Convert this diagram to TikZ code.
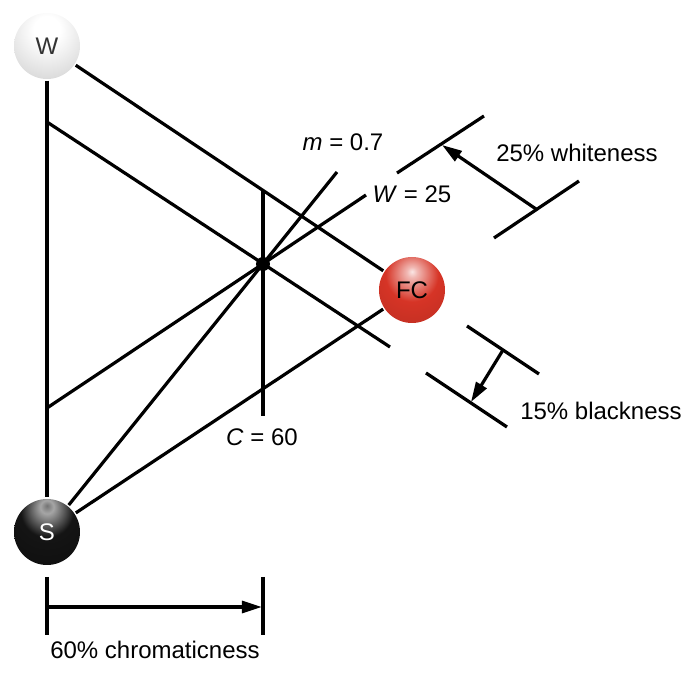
\documentclass[tikz,border=0pt]{standalone}
\usepackage{fontspec}
\setmainfont{Liberation Sans}
\usetikzlibrary{arrows.meta}
\definecolor{fcred}{RGB}{214,52,38}
\pgfdeclareradialshading{whiteball}{\pgfpoint{0bp}{14bp}}{color(0bp)=(white); color(10bp)=(white); color(34bp)=(black!14); color(54bp)=(black!34); color(100bp)=(black!45)}
\pgfdeclareradialshading{redball}{\pgfpoint{0bp}{14bp}}{color(0bp)=(fcred!12!white); color(4bp)=(fcred!35!white); color(20bp)=(fcred); color(50bp)=(fcred!85!black); color(100bp)=(fcred!70!black)}
\pgfdeclareradialshading{blackball}{\pgfpoint{0bp}{20bp}}{color(0bp)=(black!55); color(5bp)=(black!35); color(20bp)=(black!92); color(100bp)=(black)}

\begin{document}
\begin{tikzpicture}[x=0.5pt, y=-0.5pt, line width=1.6pt,
  ball/.style={circle, minimum size=33pt, inner sep=0pt, font=\fontsize{12}{14}\selectfont},
  lbl/.style={font=\fontsize{12}{14}\selectfont, inner sep=1pt},
  tip/.style={-{Triangle[length=10pt,width=6pt]}}]
  \useasboundingbox (0,0) rectangle (693,680);

  % spheres and the colour point
  \node[ball, shading=whiteball, text=black!80] (W) at (47,46) {W};
  \node[ball, shading=redball] (FC) at (412,290) {FC};
  \node[ball, shading=blackball, text=white] (S) at (47,532) {S};

  % free ends
  \coordinate (b1) at (47,122);  \coordinate (b2) at (390,347);
  \coordinate (w1) at (47,408);  \coordinate (w2) at (366,195);
  \coordinate (m1) at (337,172);
  \coordinate (c1) at (263,191); \coordinate (c2) at (263,416);

  % triangle
  \draw (W) -- (S);
  \draw (W) -- (FC);
  \draw (S) -- (FC);

  % lines through the colour point
  \draw (b1) -- (b2);
  \draw (w1) -- (w2);
  \draw (S) -- (m1);
  \draw (c1) -- (c2);
  \node[circle, fill, inner sep=0pt, minimum size=7pt] (P) at (263,264) {};

  \node[lbl] (mlbl) at (343,142) {\textit{m} = 0.7};
  \node[lbl] (wlbl) at (412,194) {\textit{W} = 25};
  \node[lbl] (clbl) at (262,437) {\textit{C} = 60};

  % whiteness
  \coordinate (wa) at (397,173); \coordinate (wb) at (484,116);
  \coordinate (wc) at (494,238); \coordinate (wd) at (579,181);
  \coordinate (wt) at (536,209); \coordinate (wh) at (442,145);
  \draw (wa) -- (wb);
  \draw (wc) -- (wd);
  \draw[tip] (wt) -- (wh);
  \node[lbl] (wness) at (577,153) {25\% whiteness};

  % blackness
  \coordinate (ka) at (467,326); \coordinate (kb) at (539,374);
  \coordinate (kc) at (426,373); \coordinate (kd) at (507,427);
  \coordinate (kt) at (503,350); \coordinate (kh) at (471,402);
  \draw (ka) -- (kb);
  \draw (kc) -- (kd);
  \draw[tip] (kt) -- (kh);
  \node[lbl] (kness) at (601,411) {15\% blackness};

  % chromaticness
  \coordinate (ca) at (47,577);  \coordinate (cb) at (47,635);
  \coordinate (cc) at (263,577); \coordinate (cd) at (263,635);
  \coordinate (ct) at (47,607);  \coordinate (ch) at (262,607);
  \draw (ca) -- (cb);
  \draw (cc) -- (cd);
  \draw[tip] (ct) -- (ch);
  \node[lbl] (cness) at (155,650) {60\% chromaticness};
\end{tikzpicture}
\end{document}
